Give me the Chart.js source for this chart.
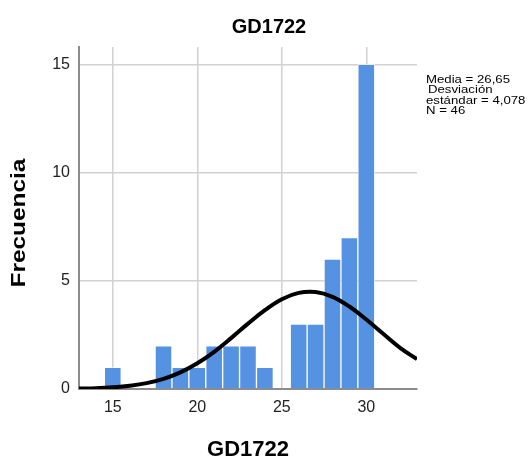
<!DOCTYPE html>
<html lang="es">
<head>
  <meta charset="UTF-8" />
  <title>GD1722</title>
  <script src="https://cdn.jsdelivr.net/npm/chart.js"></script>
  <style>
    body { margin: 0; background: #fff; }
    .chart-box { position: relative; width: 531px; height: 458px; }
  </style>
</head>
<body>
<div class="chart-box">
  <canvas id="histChart"></canvas>
</div>

<script>
  // histogram bins (value -> frequency)
  const binValues = [15, 18, 19, 20, 21, 22, 23, 24, 26, 27, 28, 29, 30];
  const binCounts = [1, 2, 1, 1, 2, 2, 2, 1, 3, 3, 6, 7, 15];

  // normal curve
  const curveX = [13, 14, 15, 16, 17, 18, 19, 20, 21, 22, 23, 24, 25, 26, 27, 28, 29, 30, 31, 32, 33];
  const curveY = [0.02, 0.04, 0.08, 0.15, 0.27, 0.47, 0.77, 1.19, 1.72, 2.35, 3.02, 3.64, 4.15, 4.44, 4.48, 4.26, 3.81, 3.21, 2.55, 1.90, 1.38];

  const xTicks = [15, 20, 25, 30];
  const yTicks = [0, 5, 10, 15];

  const statsLines = ['Media = 26,65', 'Desviación', 'estándar = 4,078', 'N = 46'];

  const textPlugin = {
    id: 'spssText',
    afterDraw(chart) {
      const ctx = chart.ctx;
      ctx.save();
      ctx.fillStyle = '#000';
      ctx.textAlign = 'center';
      ctx.textBaseline = 'middle';
      ctx.font = 'bold 20px "Liberation Sans", Arial, sans-serif';
      ctx.fillText('GD1722', 269, 27);
      ctx.font = 'bold 22px "Liberation Sans", Arial, sans-serif';
      ctx.fillText('GD1722', 248, 450);
      ctx.font = 'bold 20px "Liberation Sans", Arial, sans-serif';
      ctx.translate(19, 223);
      ctx.rotate(-Math.PI / 2);
      ctx.scale(1.22, 1);
      ctx.fillText('Frecuencia', 0, 0);
      ctx.restore();

      // stats box on the right
      ctx.save();
      ctx.fillStyle = '#000';
      ctx.textAlign = 'left';
      ctx.textBaseline = 'alphabetic';
      ctx.font = '10px "Liberation Sans", Arial, sans-serif';
      statsLines.forEach((line, i) => {
        ctx.save();
        ctx.translate(i === 1 ? 428 : 426, 83 + i * 10.3);
        ctx.scale(1.32, 1);
        ctx.fillText(line, 0, 0);
        ctx.restore();
      });
      ctx.restore();
    }
  };

  new Chart(document.getElementById('histChart'), {
    type: 'bar',
    data: {
      datasets: [
        {
          type: 'line',
          data: curveX.map((x, i) => ({ x: x, y: curveY[i] })),
          borderColor: '#000',
          borderWidth: 4,
          pointRadius: 0,
          tension: 0.4,
          fill: false,
          order: 0
        },
        {
          type: 'bar',
          data: binValues.map((x, i) => ({ x: x, y: binCounts[i] })),
          backgroundColor: '#5592e2',
          borderColor: 'rgba(255,255,255,0.55)',
          borderWidth: 1,
          barPercentage: 1,
          categoryPercentage: 1,
          order: 1
        }
      ]
    },
    options: {
      responsive: true,
      maintainAspectRatio: false,
      animation: false,
      layout: { padding: { left: 0, top: 47, right: 114, bottom: 0 } },
      plugins: { legend: { display: false }, tooltip: { enabled: false } },
      scales: {
        x: {
          type: 'linear',
          min: 13,
          max: 33,
          offset: false,
          afterFit: s => { s.height = 69; },
          afterBuildTicks: s => { s.ticks = xTicks.map(v => ({ value: v })); },
          grid: { offset: false, color: '#d2d2d2', lineWidth: 1.5, tickLength: 0, drawTicks: false },
          border: { color: '#8c8c8c', width: 2 },
          ticks: { color: '#222', font: { size: 16, family: '"Liberation Sans", Arial' }, padding: 9, maxRotation: 0 }
        },
        y: {
          min: 0,
          max: 15.8,
          afterFit: s => { s.width = 79; },
          afterBuildTicks: s => { s.ticks = yTicks.map(v => ({ value: v })); },
          grid: { color: '#d2d2d2', lineWidth: 1.5, tickLength: 0, drawTicks: false },
          border: { color: '#8c8c8c', width: 2 },
          ticks: { color: '#222', font: { size: 16, family: '"Liberation Sans", Arial' }, padding: 9 }
        }
      }
    },
    plugins: [textPlugin]
  });
</script>
</body>
</html>
